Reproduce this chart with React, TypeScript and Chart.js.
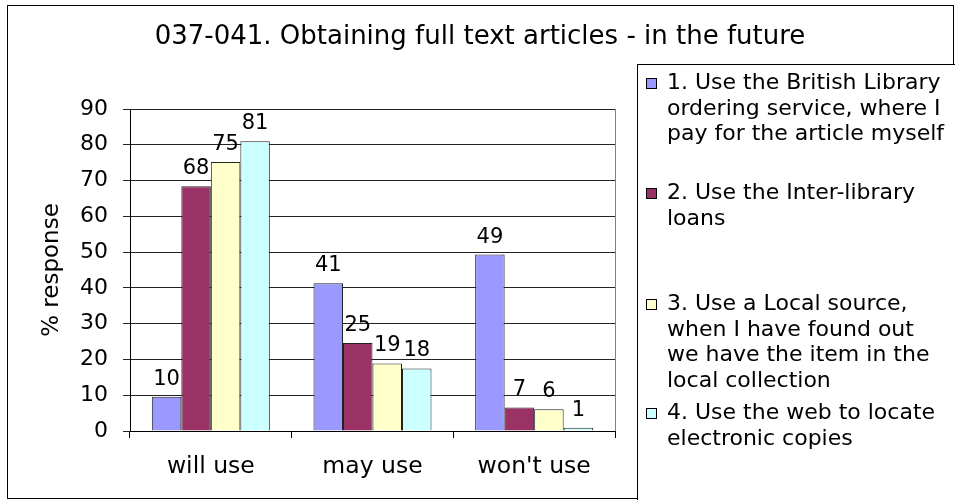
import React, { useEffect, useRef } from "react";
import { Chart, registerables } from "chart.js";

Chart.register(...registerables);

const chartTitle = "037-041. Obtaining full text articles - in the future";
const yAxisTitle = "% response";
const categories = ["will use", "may use", "won't use"];

const seriesNames = [
  "1. Use the British Library ordering service, where I pay for the article myself",
  "2. Use the Inter-library loans",
  "3. Use a Local source, when I have found out we have the item in the local collection",
  "4. Use the web to locate electronic copies",
];
const legendLines = [
  ["1. Use the British Library", "ordering service, where I", "pay for the article myself"],
  ["2. Use the Inter-library", "loans"],
  ["3. Use a Local source,", "when I have found out", "we have the item in the", "local collection"],
  ["4. Use the web to locate", "electronic copies"],
];

const britishLibrary = [9.6, 41.3, 49.3];
const interLibraryLoans = [68.4, 24.6, 6.6];
const localSource = [75.2, 18.9, 6.1];
const webCopies = [81.0, 17.5, 0.9];

const yMin = 0;
const yMax = 90;
const yStep = 10;

const seriesColors = ["#9999FF", "#993366", "#FFFFCC", "#CCFFFF"];
const FONT = "'DejaVu Sans', Verdana, sans-serif";

export default function App() {
  const ref = useRef<HTMLCanvasElement | null>(null);

  useEffect(() => {
    const canvas = ref.current;
    if (!canvas) return;

    const framePlugin = {
      id: "frame",
      beforeDraw(chart: any) {
        const ctx = chart.ctx;
        ctx.save();
        ctx.fillStyle = "#ffffff";
        ctx.fillRect(0, 0, chart.width, chart.height);
        ctx.restore();
      },
      afterDraw(chart: any) {
        const ctx = chart.ctx;
        const area = chart.chartArea;
        ctx.save();
        // outer border
        ctx.strokeStyle = "#000";
        ctx.lineWidth = 1;
        ctx.strokeRect(7.5, 5.5, 946, 493);
        // plot right border
        ctx.strokeStyle = "#808080";
        ctx.beginPath();
        ctx.moveTo(Math.round(area.right) + 0.5, area.top);
        ctx.lineTo(Math.round(area.right) + 0.5, area.bottom);
        ctx.stroke();
        // title
        ctx.fillStyle = "#000";
        ctx.font = `26px ${FONT}`;
        ctx.textAlign = "center";
        ctx.textBaseline = "alphabetic";
        ctx.fillText(chartTitle, 480, 44);
        // legend box
        const lx = 637;
        const ly = 64;
        ctx.fillStyle = "#fff";
        ctx.fillRect(lx, ly, chart.width - lx + 10, chart.height - ly + 10);
        ctx.strokeStyle = "#000";
        ctx.strokeRect(lx + 0.5, ly + 0.5, chart.width - lx + 10, chart.height - ly + 10);
        const itemTops = [83, 193, 304, 413];
        const lineH = 25.8;
        ctx.font = `22px ${FONT}`;
        ctx.textAlign = "left";
        ctx.textBaseline = "middle";
        legendLines.forEach((lines, i) => {
          const y0 = itemTops[i];
          ctx.fillStyle = seriesColors[i];
          ctx.fillRect(646, y0 - 5, 11, 11);
          ctx.strokeStyle = "#000";
          ctx.strokeRect(646.5, y0 - 5 + 0.5, 10, 10);
          ctx.fillStyle = "#000";
          lines.forEach((t, k) => ctx.fillText(t, 667, y0 + k * lineH));
        });
        ctx.restore();
      },
    };

    const valueLabels = {
      id: "valueLabels",
      afterDatasetsDraw(chart: any) {
        const ctx = chart.ctx;
        ctx.save();
        ctx.font = `21px ${FONT}`;
        ctx.fillStyle = "#000";
        ctx.textAlign = "center";
        ctx.textBaseline = "alphabetic";
        chart.data.datasets.forEach((ds: any, i: number) => {
          const meta = chart.getDatasetMeta(i);
          meta.data.forEach((el: any, j: number) => {
            ctx.fillText(String(Math.round(ds.data[j])), el.x, el.y - 12);
          });
        });
        ctx.restore();
      },
    };

    const seriesData = [britishLibrary, interLibraryLoans, localSource, webCopies];

    const chart = new Chart(canvas, {
      type: "bar",
      data: {
        labels: categories,
        datasets: seriesData.map((d, i) => ({
          label: seriesNames[i],
          data: d,
          backgroundColor: seriesColors[i],
          borderColor: "#222",
          borderWidth: 1,
          categoryPercentage: 0.73,
          barPercentage: 1,
        })),
      },
      options: {
        responsive: false,
        animation: false,
        devicePixelRatio: 1,
        layout: { padding: { left: 0, right: 340, top: 109, bottom: 0 } },
        plugins: {
          legend: { display: false },
          title: { display: false },
          tooltip: { enabled: false },
        },
        scales: {
          x: {
            ticks: { color: "#000", font: { family: FONT, size: 23.5 }, padding: 15 },
            grid: { drawOnChartArea: false, drawTicks: true, tickLength: 7, color: "#000", offset: true },
            border: { color: "#000" },
            afterFit: (s: any) => {
              s.height = 69;
            },
          },
          y: {
            min: yMin,
            max: yMax,
            ticks: { stepSize: yStep, color: "#000", font: { family: FONT, size: 22 }, padding: 15 },
            grid: { color: "#222", tickLength: 7, drawTicks: true },
            border: { color: "#000" },
            title: {
              display: true,
              text: yAxisTitle,
              color: "#000",
              font: { family: FONT, size: 23 },
              padding: { top: 38, bottom: 0 },
            },
            afterFit: (s: any) => {
              s.width = 130;
            },
          },
        },
      },
      plugins: [framePlugin, valueLabels],
    });

    return () => chart.destroy();
  }, []);

  return (
    <div style={{ position: "absolute", left: 0, top: 0, width: 955, height: 500 }}>
      <canvas ref={ref} width={955} height={500} style={{ width: 955, height: 500, display: "block" }} />
    </div>
  );
}
